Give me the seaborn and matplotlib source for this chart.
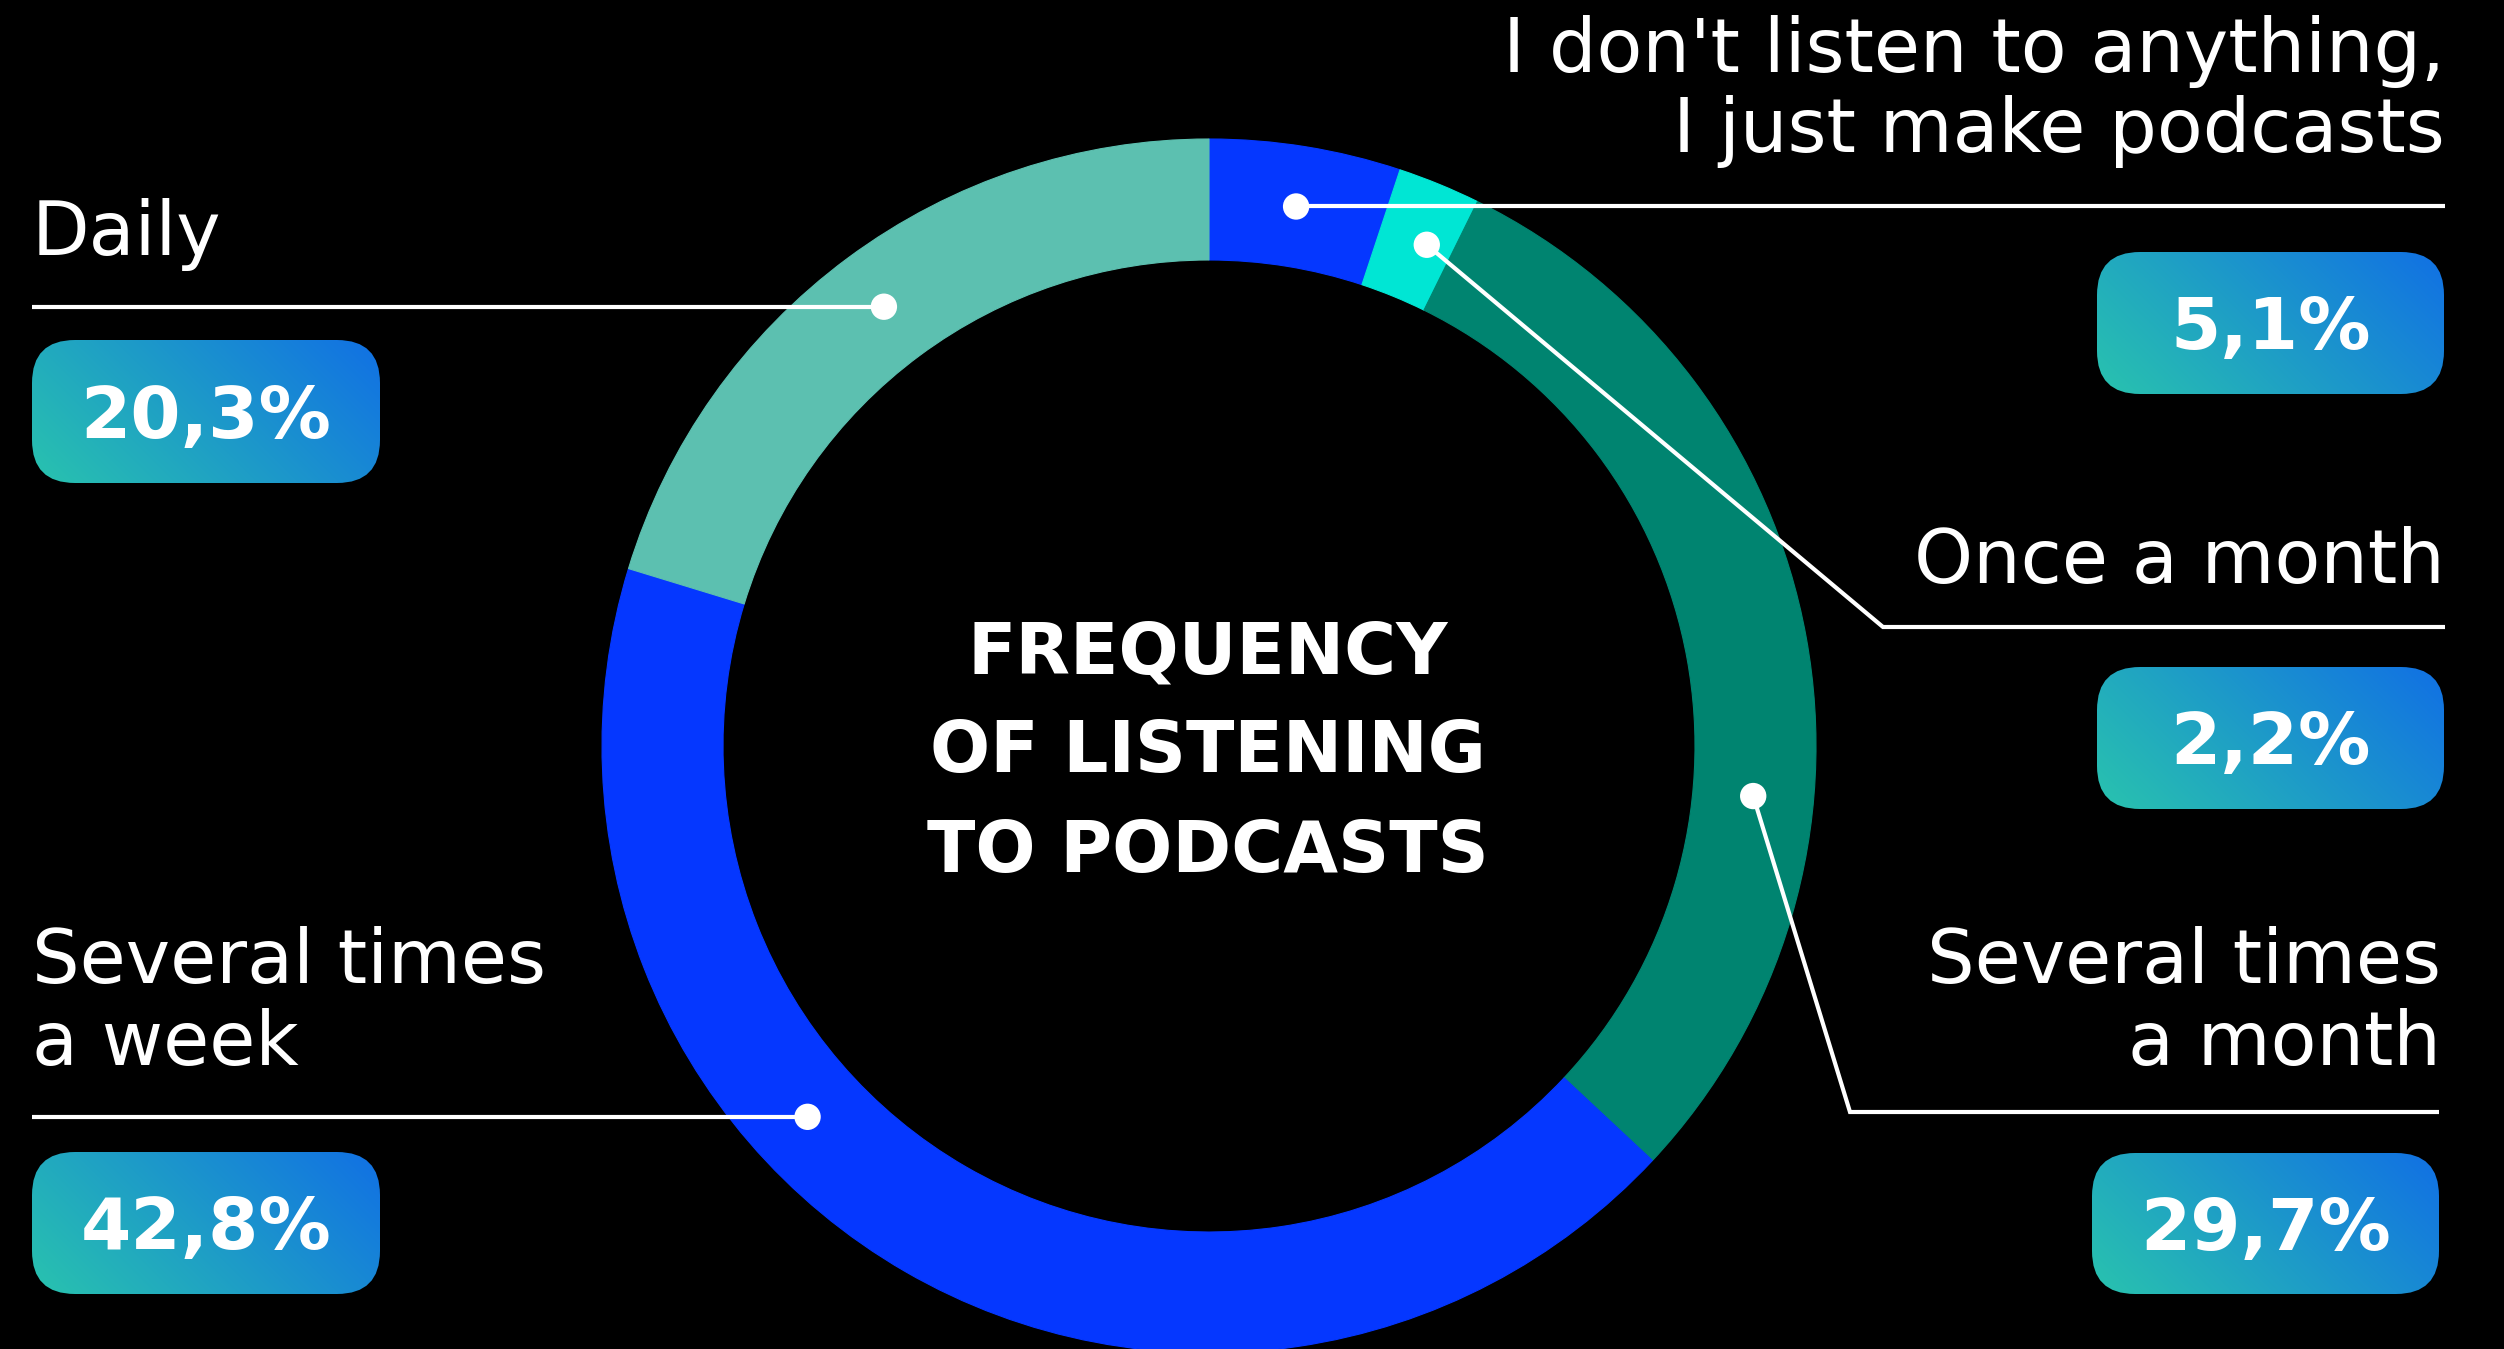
import numpy as np
import pandas as pd
import matplotlib
matplotlib.use("Agg")
import matplotlib.pyplot as plt
from matplotlib.patches import FancyBboxPatch
from matplotlib.colors import to_rgb
import seaborn as sns

# ---- data -------------------------------------------------------------
categories = [
    "I don't listen to anything,\nI just make podcasts",
    "Once a month",
    "Several times\na month",
    "Several times\na week",
    "Daily",
]
shares = [5.1, 2.2, 29.7, 42.8, 20.3]
ring_colors = ["#0537FF", "#00E6D4", "#008470", "#0537FF", "#5CC0B0"]
title_lines = ["FREQUENCY", "OF LISTENING", "TO PODCASTS"]

# ---- canvas (data units are pixels, y grows downwards) ----------------
W, H = 2504, 1349
CX, CY = 1209, 746
R_OUT, R_IN = 607, 486
R_MID = (R_OUT + R_IN) / 2
GRAD_START, GRAD_END = "#29C3AE", "#1170E4"
LABEL_PT, VALUE_PT, TITLE_PT = 54, 52, 51

# per-category callout layout
layout = [
    dict(ha="right", x=2445, baselines=[72, 152], badge=(2097, 252, 2444, 394),
         frac=0.50, elbow=None, end_x=2445),
    dict(ha="right", x=2445, baselines=[583], badge=(2097, 667, 2444, 809),
         frac=0.65, elbow=(1883, 627), end_x=2445),
    dict(ha="right", x=2441, baselines=[983, 1065], badge=(2092, 1153, 2439, 1294),
         frac=0.646, elbow=(1850, 1112), end_x=2439),
    dict(ha="left", x=32, baselines=[983, 1065], badge=(32, 1152, 380, 1294),
         frac=0.612, elbow=None, end_x=32),
    dict(ha="left", x=32, baselines=[255], badge=(32, 340, 380, 483),
         frac=0.50, elbow=None, end_x=32),
]

sns.set_theme(style="dark", rc={"figure.facecolor": "black",
                                "axes.facecolor": "black",
                                "savefig.facecolor": "black"})
plt.rcParams["font.family"] = ["DejaVu Sans"]

fig = plt.figure(figsize=(W / 100, H / 100), dpi=100, facecolor="black")
ax = fig.add_axes([0, 0, 1, 1])
ax.set_facecolor("black")

palette = sns.color_palette(ring_colors)
wedges, _ = ax.pie(shares, colors=palette, radius=R_OUT, center=(CX, CY),
                   startangle=-90, counterclock=True,
                   wedgeprops=dict(width=R_OUT - R_IN, linewidth=0))
for w in wedges:
    w.set_edgecolor(w.get_facecolor())
    w.set_linewidth(0.8)
    w.set_zorder(2)


def gradient_badge(x0, y0, x1, y1, radius=43):
    w, h = x1 - x0, y1 - y0
    nx, ny = 420, 170
    u = np.linspace(0, 1, nx)[None, :]
    v = np.linspace(1, 0, ny)[:, None]
    t = (u * w + v * h) / (w + h)
    c0 = np.array(to_rgb(GRAD_START))
    c1 = np.array(to_rgb(GRAD_END))
    img = c0 * (1 - t[..., None]) + c1 * t[..., None]
    patch = FancyBboxPatch((x0, y0), w, h,
                           boxstyle=f"round,pad=0,rounding_size={radius}",
                           facecolor="none", edgecolor="none",
                           transform=ax.transData)
    ax.add_patch(patch)
    im = ax.imshow(img, extent=(x0, x1, y1, y0), origin="upper",
                   interpolation="bilinear", zorder=3)
    im.set_clip_path(patch)


dots = []
for wedge, share, name, lay in zip(wedges, shares, categories, layout):
    theta = np.deg2rad(wedge.theta1 + lay["frac"] * (wedge.theta2 - wedge.theta1))
    dx, dy = CX + R_MID * np.cos(theta), CY + R_MID * np.sin(theta)
    dots.append((dx, dy))

    # leader line
    xs, ys = [dx], [dy]
    if lay["elbow"] is not None:
        xs.append(lay["elbow"][0])
        ys.append(lay["elbow"][1])
    xs.append(lay["end_x"])
    ys.append(ys[-1])
    ax.plot(xs, ys, color="white", lw=3.0, solid_capstyle="butt",
            solid_joinstyle="miter", zorder=4)

    # category label
    for line, base in zip(name.split("\n"), lay["baselines"]):
        ax.text(lay["x"], base, line, ha=lay["ha"], va="baseline",
                color="white", fontsize=LABEL_PT, zorder=6)

    # value badge
    x0, y0, x1, y1 = lay["badge"]
    gradient_badge(x0, y0, x1, y1)
    cap = 0.729 * VALUE_PT * 100 / 72
    ax.text((x0 + x1) / 2, (y0 + y1) / 2 + cap / 2,
            f"{share:.1f}%".replace(".", ","), ha="center", va="baseline",
            color="white", fontsize=VALUE_PT, fontweight="bold", zorder=6)

dot_df = pd.DataFrame(dots, columns=["x", "y"])
sns.scatterplot(data=dot_df, x="x", y="y", s=360, color="white",
                edgecolor="none", linewidth=0, ax=ax, legend=False, zorder=5)

for line, base in zip(title_lines, [673, 772, 872]):
    ax.text(1208, base, line, ha="center", va="baseline", color="white",
            fontsize=TITLE_PT, fontweight="bold", zorder=6)

ax.set_xlim(0, W)
ax.set_ylim(H, 0)
ax.set_aspect("equal")
ax.set_axis_off()

fig.savefig("out.png", dpi=100, facecolor="black")
